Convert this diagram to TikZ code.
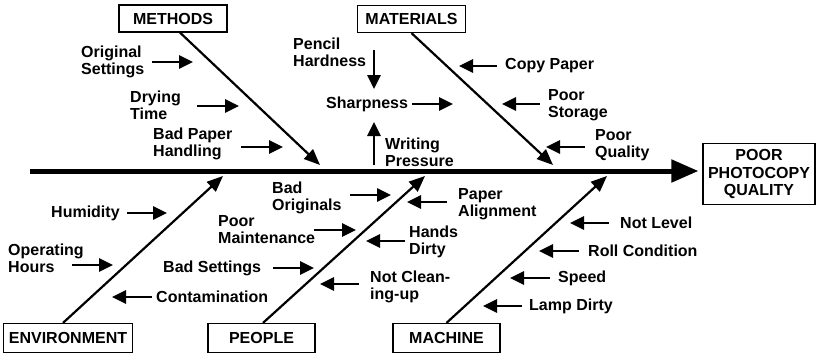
\documentclass[tikz,border=0pt]{standalone}
\usepackage{fontspec}
\setmainfont{Liberation Sans}
\usetikzlibrary{arrows.meta}
\begin{document}
\begin{tikzpicture}[x=1pt,y=-1pt,
  lbl/.style={font=\bfseries\fontsize{16}{17}\selectfont, inner sep=0pt, align=left, anchor=west},
  catbox/.style={draw, line width=1.2pt, font=\bfseries\fontsize{16}{17.5}\selectfont, minimum width=108pt, minimum height=27pt, inner sep=0pt},
  cause/.style={line width=2.8pt, -{Triangle[length=14pt,width=13pt]}},
  branch/.style={line width=2.2pt, -{Triangle[length=16pt,width=13pt]}},
  spine/.style={line width=5pt, -{Triangle[length=27pt,width=22pt]}}]
\useasboundingbox (0,0) rectangle (816,356);

% category boxes
\node[catbox] (methods) at (173,18.5) {METHODS};
\node[catbox] (materials) at (411.5,19) {MATERIALS};
\node[catbox, minimum width=129pt, minimum height=29pt] (env) at (68,338) {ENVIRONMENT};
\node[catbox, minimum width=107pt, minimum height=29pt] (people) at (261.5,338) {PEOPLE};
\node[catbox, minimum width=107pt, minimum height=29pt] (machine) at (446.5,338) {MACHINE};
\node[catbox, minimum width=112pt, minimum height=61pt, align=center] (effect) at (759,174) {POOR\\PHOTOCOPY\\QUALITY};

% spine
\coordinate (sstart) at (30,171);
\draw[spine, shorten >=4pt] (sstart) -- (sstart -| effect.west);

% branches
\coordinate (mtip) at (320,165);
\coordinate (matip) at (553,165);
\coordinate (etip) at (223,176);
\coordinate (ptip) at (425,176);
\coordinate (mctip) at (607,176);
\draw[branch] ([xshift=7pt]methods.south) -- (mtip);
\draw[branch] (materials.south) -- (matip);
\draw[branch] ([xshift=-5pt]env.north) -- (etip);
\draw[branch] ([xshift=1.5pt]people.north) -- (ptip);
\draw[branch] (machine.north) -- (mctip);

% methods causes
\node[lbl] (os) at (81,61.5) {Original\\Settings};
\coordinate (os1) at (152,62); \coordinate (os2) at (193,62);
\draw[cause] (os1) -- (os2);
\node[lbl] (dt) at (130,105) {Drying\\Time};
\coordinate (dt1) at (197,106); \coordinate (dt2) at (239,106);
\draw[cause] (dt1) -- (dt2);
\node[lbl] (bph) at (153,144) {Bad Paper\\Handling};
\coordinate (bph1) at (241,147); \coordinate (bph2) at (283,147);
\draw[cause] (bph1) -- (bph2);

% sharpness group
\node[lbl] (ph) at (293,52) {Pencil\\Hardness};
\coordinate (ph1) at (374,50); \coordinate (ph2) at (374,89);
\draw[cause] (ph1) -- (ph2);
\node[lbl] (sh) at (326,104) {Sharpness};
\coordinate (sh1) at (412,104); \coordinate (sh2) at (453,104);
\draw[cause] (sh1) -- (sh2);
\node[lbl] (wp) at (385,152.5) {Writing\\Pressure};
\coordinate (wp1) at (374,165); \coordinate (wp2) at (374,122);
\draw[cause] (wp1) -- (wp2);

% materials causes
\node[lbl] (cp) at (505,66) {Copy Paper};
\coordinate (cp1) at (497,66); \coordinate (cp2) at (459,66);
\draw[cause] (cp1) -- (cp2);
\node[lbl] (ps) at (548,105) {Poor\\Storage};
\coordinate (ps1) at (540,104); \coordinate (ps2) at (502,104);
\draw[cause] (ps1) -- (ps2);
\node[lbl] (pq) at (595,145.5) {Poor\\Quality};
\coordinate (pq1) at (585,147); \coordinate (pq2) at (546,147);
\draw[cause] (pq1) -- (pq2);

% environment causes
\node[lbl] (hu) at (51,213) {Humidity};
\coordinate (hu1) at (127,213); \coordinate (hu2) at (167,213);
\draw[cause] (hu1) -- (hu2);
\node[lbl] (oh) at (8,258.5) {Operating\\Hours};
\coordinate (oh1) at (72,265); \coordinate (oh2) at (113,265);
\draw[cause] (oh1) -- (oh2);
\node[lbl] (co) at (156,297) {Contamination};
\coordinate (co1) at (152,297); \coordinate (co2) at (112,297);
\draw[cause] (co1) -- (co2);

% people causes
\node[lbl] (bo) at (272,198) {Bad\\Originals};
\coordinate (bo1) at (350,195); \coordinate (bo2) at (391,195);
\draw[cause] (bo1) -- (bo2);
\node[lbl] (pm) at (218,230) {Poor\\Maintenance};
\coordinate (pm1) at (314,230); \coordinate (pm2) at (356,230);
\draw[cause] (pm1) -- (pm2);
\node[lbl] (bs) at (163,268) {Bad Settings};
\coordinate (bs1) at (273,268); \coordinate (bs2) at (314,268);
\draw[cause] (bs1) -- (bs2);
\node[lbl] (pa) at (458,204) {Paper\\Alignment};
\coordinate (pa1) at (447,202); \coordinate (pa2) at (407,202);
\draw[cause] (pa1) -- (pa2);
\node[lbl] (hd) at (409,242) {Hands\\Dirty};
\coordinate (hd1) at (405,241); \coordinate (hd2) at (366,241);
\draw[cause] (hd1) -- (hd2);
\node[lbl] (nc) at (370,286.5) {Not Clean-\\ing-up};
\coordinate (nc1) at (359,284); \coordinate (nc2) at (320,284);
\draw[cause] (nc1) -- (nc2);

% machine causes
\node[lbl] (nl) at (620,223) {Not Level};
\coordinate (nl1) at (609,223); \coordinate (nl2) at (570,223);
\draw[cause] (nl1) -- (nl2);
\node[lbl] (rc) at (588,251) {Roll Condition};
\coordinate (rc1) at (579,251); \coordinate (rc2) at (539,251);
\draw[cause] (rc1) -- (rc2);
\node[lbl] (sp) at (558,278) {Speed};
\coordinate (sp1) at (550,278); \coordinate (sp2) at (510,278);
\draw[cause] (sp1) -- (sp2);
\node[lbl] (ld) at (529,306) {Lamp Dirty};
\coordinate (ld1) at (522,306); \coordinate (ld2) at (483,306);
\draw[cause] (ld1) -- (ld2);
\end{tikzpicture}
\end{document}
